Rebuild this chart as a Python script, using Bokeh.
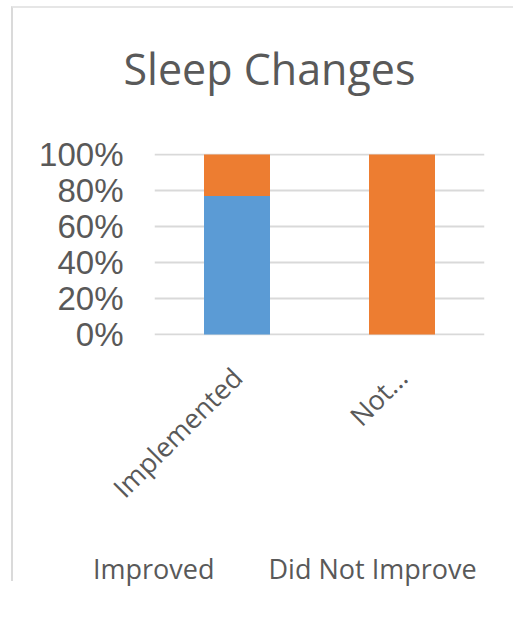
import math
from bokeh.plotting import figure
from bokeh.models import (ColumnDataSource, FactorRange, Range1d, FixedTicker,
                          NumeralTickFormatter, Legend, LegendItem, Title)
from bokeh.embed import file_html
from bokeh.resources import INLINE

# ---- data ----
categories = ["Implemented", "Not..."]
improved = [0.77, 0.0]
did_not_improve = [0.23, 1.0]
series_names = ["Improved", "Did Not Improve"]
series_colors = ["#5b9bd5", "#ed7d31"]
y_ticks = [0, 0.2, 0.4, 0.6, 0.8, 1.0]

source = ColumnDataSource(data=dict(cat=categories, improved=improved,
                                    did_not=did_not_improve))

TXT = "#595959"

fig = figure(x_range=FactorRange(*categories), y_range=Range1d(-0.006, 1.006),
             frame_width=330, frame_height=182,
             min_border_left=141, min_border_right=29,
             min_border_top=145, min_border_bottom=0,
             output_backend="svg", toolbar_location=None,
             title="Sleep Changes")
fig.x_range.range_padding = 0
fig.styles = {"margin-left": "11px", "margin-top": "6px", "padding-bottom": "60px",
              "border-left": "2px solid #dadada", "border-top": "2px solid #e6e6e6"}

rs = fig.vbar_stack(["improved", "did_not"], x="cat", width=0.4, source=source,
                    color=series_colors, line_color=None)

# spacer between frame and title
fig.add_layout(Title(text=" ", text_font_size="10px", standoff=38), "above")

# title
fig.title.text_font = "Open Sans"
fig.title.text_font_size = "43px"
fig.title.text_font_style = "normal"
fig.title.text_color = TXT
fig.title.align = "left"
fig.title.offset = -31
fig.title.standoff = 10

# y axis
fig.yaxis.ticker = FixedTicker(ticks=y_ticks)
fig.yaxis.formatter = NumeralTickFormatter(format="0%")
fig.yaxis.major_label_text_font = "Liberation Sans"
fig.yaxis.major_label_text_font_size = "33px"
fig.yaxis.major_label_text_color = TXT
fig.yaxis.major_tick_out = 0
fig.yaxis.major_tick_in = 0
fig.yaxis.minor_tick_out = 0
fig.yaxis.minor_tick_in = 0
fig.yaxis.axis_line_color = None
fig.yaxis.major_label_standoff = 31

# x axis
fig.xaxis.major_label_orientation = math.pi / 4
fig.xaxis.major_label_text_font = "Open Sans"
fig.xaxis.major_label_text_font_size = "27px"
fig.xaxis.major_label_text_color = TXT
fig.xaxis.major_tick_out = 0
fig.xaxis.major_tick_in = 0
fig.xaxis.axis_line_color = None
fig.xaxis.major_label_standoff = 37

# grid
fig.xgrid.grid_line_color = None
fig.ygrid.ticker = FixedTicker(ticks=y_ticks)
fig.ygrid.grid_line_color = "#d9d9d9"
fig.ygrid.grid_line_width = 2
fig.outline_line_color = None

# ---- legend, drawn in its own small figure placed under the chart ----
leg_fig = figure(width=440, height=40, x_range=(0, 1), y_range=(0, 1),
                 x_axis_location=None, y_axis_location=None, min_border=0,
                 output_backend="svg", toolbar_location=None)
leg_fig.grid.visible = False
leg_fig.outline_line_color = None
leg_fig.styles = {"position": "absolute", "left": "68px", "top": "550px",
                  "z-index": "5"}
leg_r = [leg_fig.vbar(x=[], top=[], width=0.4, fill_color=c, line_color=None)
         for c in series_colors]

legend = Legend(items=[LegendItem(label=n, renderers=[r])
                       for n, r in zip(series_names, leg_r)],
                orientation="horizontal", location="top_left",
                label_text_font="Open Sans", label_text_font_size="27px",
                label_text_color=TXT, glyph_width=18, glyph_height=18,
                label_standoff=7, spacing=29, padding=0, margin=0,
                border_line_color=None, background_fill_alpha=0)
leg_fig.add_layout(legend, "center")

p = [fig, leg_fig]
open("out.html", "w").write(file_html(p, INLINE))
